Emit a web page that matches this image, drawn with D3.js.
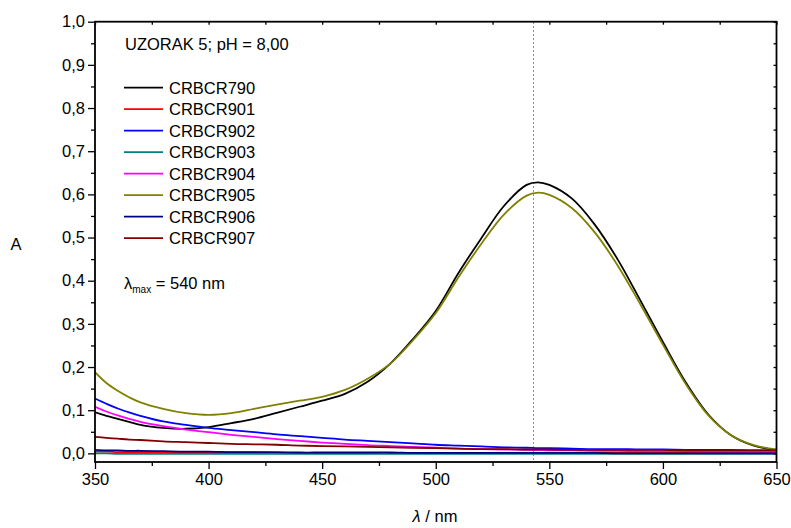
<!DOCTYPE html>
<html>
<head>
<meta charset="utf-8">
<script src="https://cdn.jsdelivr.net/npm/d3@7"></script>
<style>
  html, body { margin: 0; padding: 0; background: #fff; }
  svg { display: block; font-family: "Liberation Sans", Arial, sans-serif; }
</style>
</head>
<body>
<svg id="chart" width="791" height="528"></svg>
<script>
// ---- data ----
const wavelengths = [350,355,360,365,370,380,390,400,410,420,430,440,450,460,470,480,490,500,510,520,530,540,545,550,560,570,580,590,600,610,620,630,640,650];
const seriesNames = ["CRBCR790","CRBCR901","CRBCR902","CRBCR903","CRBCR904","CRBCR905","CRBCR906","CRBCR907"];
const seriesColors = ["#000000","#ff0000","#0000ff","#008080","#ff00ff","#808000","#000080","#800000"];
const crbcr790 = [0.095,0.087,0.080,0.073,0.066,0.059,0.057,0.061,0.070,0.080,0.094,0.108,0.122,0.138,0.166,0.208,0.265,0.330,0.418,0.498,0.573,0.622,0.628,0.622,0.590,0.530,0.450,0.355,0.258,0.165,0.090,0.042,0.018,0.008];
const crbcr901 = [0.004,0.004,0.003,0.003,0.003,0.002,0.002,0.002,0.002,0.002,0.001,0.001,0.001,0.001,0.001,0.001,0.001,0.001,0.001,0.001,0.001,0.001,0.001,0.001,0.001,0.001,0.001,0.001,0.001,0.001,0.001,0.001,0.001,0.001];
const crbcr902 = [0.127,0.115,0.104,0.095,0.087,0.074,0.066,0.059,0.054,0.049,0.044,0.040,0.036,0.032,0.029,0.026,0.023,0.020,0.018,0.016,0.014,0.013,0.012,0.012,0.011,0.010,0.010,0.009,0.009,0.008,0.008,0.008,0.007,0.007];
const crbcr903 = [0.000,0.000,-0.001,-0.001,-0.001,-0.001,-0.001,-0.001,-0.001,-0.001,-0.001,-0.001,-0.001,-0.001,-0.001,-0.001,-0.001,-0.001,-0.001,-0.001,-0.001,-0.001,-0.001,-0.001,-0.001,-0.001,-0.001,-0.001,-0.001,-0.001,-0.001,-0.001,-0.001,-0.001];
const crbcr904 = [0.108,0.097,0.088,0.080,0.073,0.063,0.055,0.049,0.043,0.038,0.033,0.029,0.025,0.022,0.019,0.017,0.015,0.013,0.011,0.010,0.009,0.008,0.008,0.007,0.007,0.006,0.006,0.005,0.005,0.005,0.004,0.004,0.004,0.004];
const crbcr905 = [0.188,0.163,0.145,0.130,0.118,0.103,0.093,0.089,0.093,0.103,0.113,0.122,0.131,0.147,0.173,0.208,0.262,0.325,0.408,0.485,0.553,0.597,0.604,0.599,0.568,0.512,0.436,0.346,0.252,0.161,0.088,0.042,0.019,0.009];
const crbcr906 = [0.008,0.007,0.007,0.006,0.006,0.005,0.004,0.004,0.003,0.003,0.003,0.002,0.002,0.002,0.002,0.002,0.001,0.001,0.001,0.001,0.001,0.001,0.001,0.001,0.001,0.001,0.000,0.000,0.000,0.000,0.000,0.000,0.000,0.000];
const crbcr907 = [0.038,0.036,0.034,0.032,0.031,0.028,0.026,0.024,0.022,0.021,0.020,0.018,0.017,0.016,0.015,0.014,0.013,0.012,0.011,0.010,0.010,0.009,0.009,0.009,0.008,0.008,0.008,0.008,0.008,0.007,0.007,0.007,0.007,0.007];
const seriesValues = [crbcr790,crbcr901,crbcr902,crbcr903,crbcr904,crbcr905,crbcr906,crbcr907];
const xTicks = [350,400,450,500,550,600,650];
const yTicks = [0,0.1,0.2,0.3,0.4,0.5,0.6,0.7,0.8,0.9,1.0];
const lambdaLine = 543;
const titleText = "UZORAK 5; pH = 8,00";

// ---- layout ----
const svg = d3.select("#chart");
const pL = 95, pR = 776.5, pT = 21.7, pB = 462;
const x = d3.scaleLinear().domain([350, 650]).range([pL, pR]);
const y = d3.scaleLinear().domain([-0.02, 1.0]).range([pB, pT]);
const fmt = d => d3.format(".1f")(d).replace(".", ",");
const fontSize = 16.5;

// clip
svg.append("clipPath").attr("id", "clip").append("rect")
  .attr("x", pL).attr("y", pT).attr("width", pR - pL).attr("height", pB - pT);

// dotted vertical line (behind curves)
const lx = Math.round(x(lambdaLine)) + 0.5;
svg.append("line")
  .attr("x1", lx).attr("x2", lx)
  .attr("y1", y(1.0)).attr("y2", y(-0.02))
  .attr("stroke", "#ff4fc4").attr("stroke-width", 1).attr("stroke-dasharray", "2,2")
  .attr("shape-rendering", "crispEdges");

// series
const line = d3.line().x((d, i) => x(wavelengths[i])).y(d => y(d)).curve(d3.curveCatmullRom.alpha(0.5));
const plot = svg.append("g").attr("clip-path", "url(#clip)");
seriesValues.forEach((vals, k) => {
  plot.append("path").datum(vals)
    .attr("fill", "none").attr("stroke", seriesColors[k])
    .attr("stroke-width", 1.8).attr("stroke-linejoin", "round")
    .attr("d", line);
});

// axes
const xMinor = d3.range(375, 650, 50);
const yMinor = d3.range(0.05, 1.0, 0.1);

svg.append("g").attr("transform", `translate(0,${pB})`)
  .call(d3.axisBottom(x).tickValues(xTicks).tickFormat(d3.format("d")).tickSize(7).tickPadding(4));
svg.append("g").attr("transform", `translate(0,${pB})`)
  .call(d3.axisBottom(x).tickValues(xMinor).tickFormat("").tickSize(4));
svg.append("g").attr("transform", `translate(${pL},0)`)
  .call(d3.axisLeft(y).tickValues(yTicks).tickFormat(fmt).tickSize(7).tickPadding(3));
svg.append("g").attr("transform", `translate(${pL},0)`)
  .call(d3.axisLeft(y).tickValues(yMinor).tickFormat("").tickSize(4));
// mirrored inward ticks top and right
svg.append("g").attr("transform", `translate(0,${pT})`)
  .call(d3.axisBottom(x).tickValues(xTicks.concat(xMinor)).tickFormat("").tickSize(3));
svg.append("g").attr("transform", `translate(${pR},0)`)
  .call(d3.axisLeft(y).tickValues(yTicks.concat(yMinor)).tickFormat("").tickSize(3));

svg.selectAll(".domain").remove();
svg.selectAll(".tick line").attr("stroke", "#000").attr("stroke-width", 1.3);
svg.selectAll(".tick text").attr("font-size", fontSize).attr("fill", "#000")
  .attr("font-family", "'Liberation Sans', Arial, sans-serif");

// frame
svg.append("rect").attr("x", pL).attr("y", pT).attr("width", pR - pL).attr("height", pB - pT)
  .attr("fill", "none").attr("stroke", "#000").attr("stroke-width", 1.8);

// axis titles
svg.append("text").attr("x", 16).attr("y", 250).attr("text-anchor", "middle")
  .attr("font-size", fontSize).text("A");
const xt = svg.append("text").attr("x", 435).attr("y", 522).attr("text-anchor", "middle")
  .attr("font-size", fontSize);
xt.append("tspan").attr("font-style", "italic").text("λ");
xt.append("tspan").text(" / nm");

// legend
svg.append("text").attr("x", 125).attr("y", 50).attr("font-size", fontSize).text(titleText);
const legY0 = 87.7, legDY = 21.5;
seriesNames.forEach((name, k) => {
  const yy = legY0 + k * legDY;
  svg.append("line").attr("x1", 124).attr("x2", 163).attr("y1", yy).attr("y2", yy)
    .attr("stroke", seriesColors[k]).attr("stroke-width", 1.8);
  svg.append("text").attr("x", 169).attr("y", yy + 6).attr("font-size", fontSize).text(name);
});
const lm = svg.append("text").attr("x", 124).attr("y", 289).attr("font-size", fontSize);
lm.append("tspan").text("λ");
lm.append("tspan").attr("font-size", 10).attr("dy", 4).text("max");
lm.append("tspan").attr("dy", -4).text(" = 540 nm");
</script>
</body>
</html>
